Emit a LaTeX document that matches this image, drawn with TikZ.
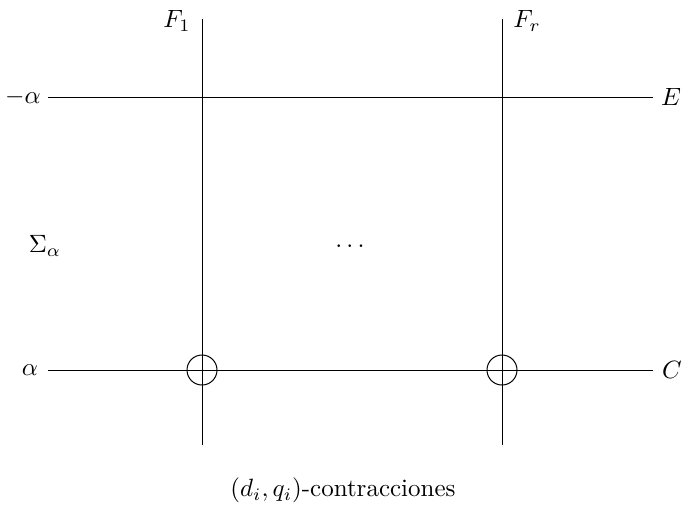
\documentclass[tikz,border=0pt]{standalone}
\begin{document}
\begin{tikzpicture}[x=0.4pt,y=-0.4pt,
  ln/.style={line width=0.4pt},
  crossmark/.style={circle,draw,line width=0.4pt,minimum size=12pt,inner sep=0pt},
  lbl/.style={inner sep=0pt}]
\useasboundingbox (0,0) rectangle (686,509);
% line ends
\coordinate (v1t) at (202,19);
\coordinate (v1b) at (202,445);
\coordinate (vrt) at (502,19);
\coordinate (vrb) at (502,445);
\coordinate (hEl) at (48,97);
\coordinate (hEr) at (653,97);
\coordinate (hCl) at (48,370);
\coordinate (hCr) at (653,370);
\draw[ln] (v1t) -- (v1b);
\draw[ln] (vrt) -- (vrb);
\draw[ln] (hEl) -- (hEr);
\draw[ln] (hCl) -- (hCr);
\node[crossmark] (c1) at (202,370) {};
\node[crossmark] (c2) at (502,370) {};
% labels
\node[lbl] (F1) at (177,21) {$F_1$};
\node[lbl] (Fr) at (527,21) {$F_r$};
\node[lbl] (ma) at (23,97) {$-\alpha$};
\node[lbl] (E) at (671,97) {$E$};
\node[lbl] (Sig) at (45,246) {$\Sigma_\alpha$};
\node[lbl] (dots) at (350,246) {$\dots$};
\node[lbl] (al) at (30,370) {$\alpha$};
\node[lbl] (C) at (672,370) {$C$};
\node[lbl] (cap) at (343,490) {$(d_i,q_i)$-contracciones};
\end{tikzpicture}
\end{document}
